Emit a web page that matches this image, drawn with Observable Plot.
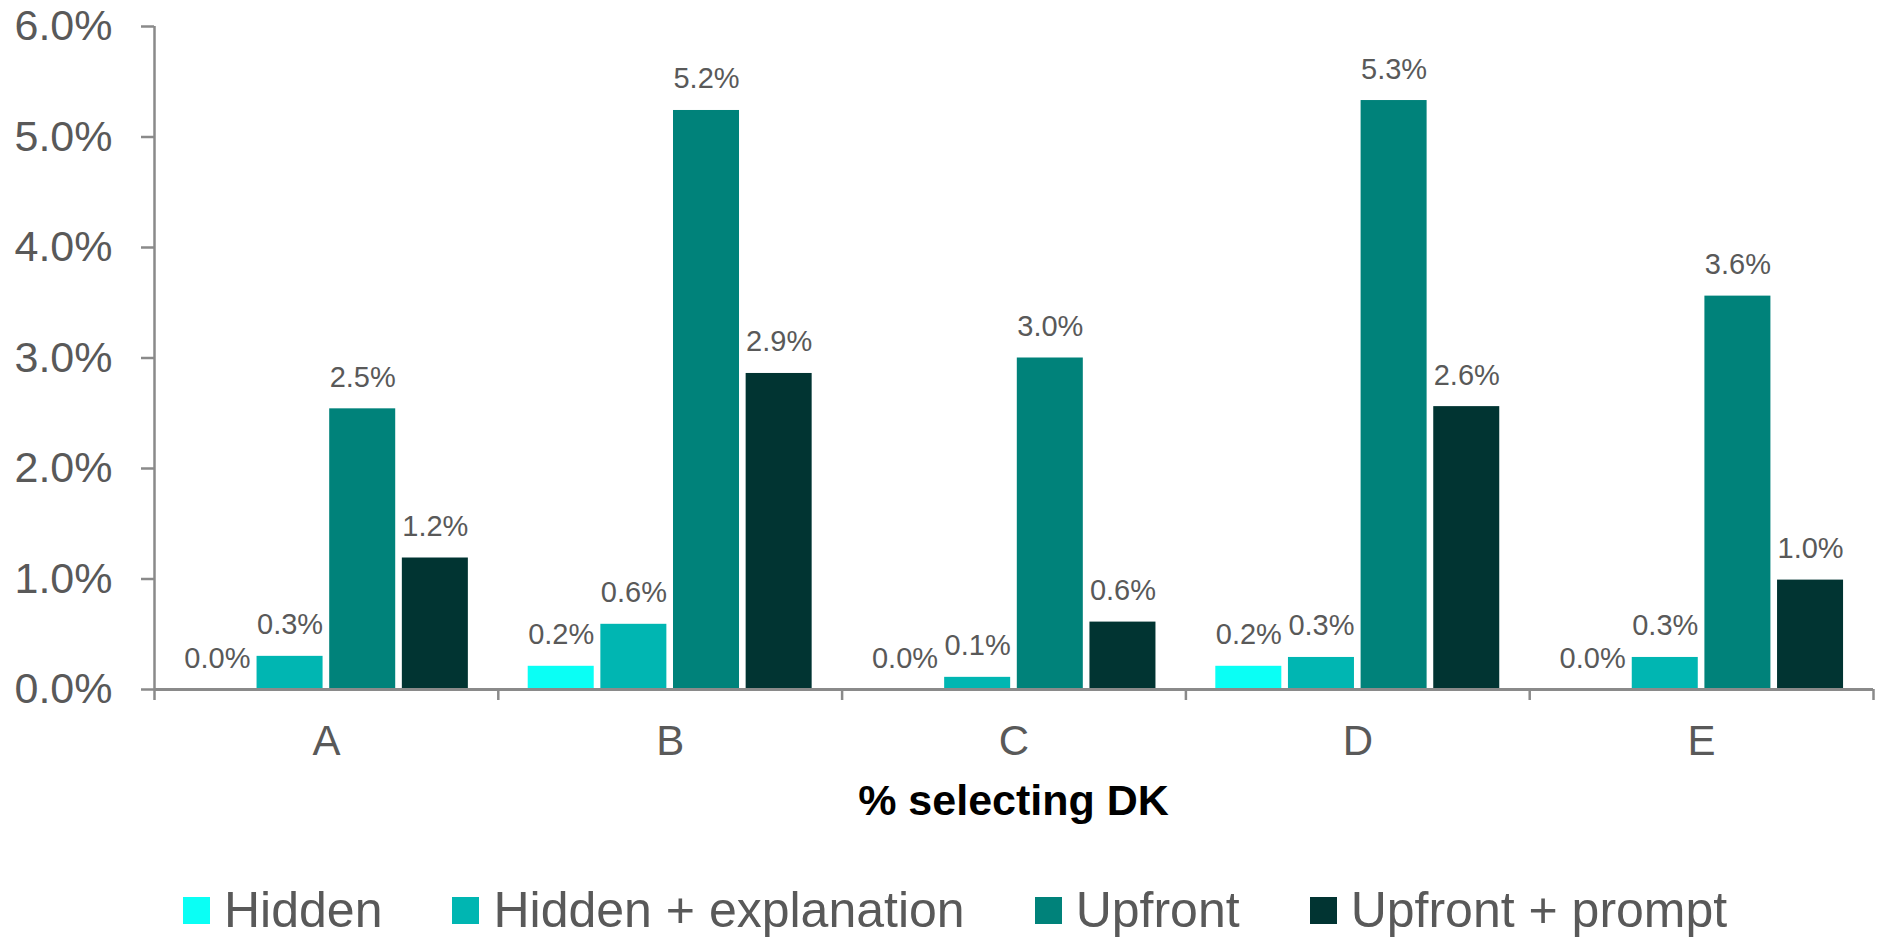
<!DOCTYPE html>
<html>
<head>
<meta charset="utf-8">
<script src="https://cdn.jsdelivr.net/npm/d3@7"></script>
<script src="https://cdn.jsdelivr.net/npm/@observablehq/plot@0.6"></script>
<style>
  html, body { margin: 0; padding: 0; background: #fff; }
  body { position: relative; width: 1879px; height: 937px; overflow: hidden;
         font-family: "Liberation Sans", Arial, Helvetica, sans-serif; }
  #title { position: absolute; top: 779px; left: 154px; width: 1719px; text-align: center;
           font-size: 43px; line-height: 43px; font-weight: bold; color: #000; }
  #legend { position: absolute; top: 885px; left: 183px; display: flex; align-items: center;
            font-size: 50px; line-height: 50px; color: #595959; white-space: nowrap; }
  .item { display: flex; align-items: center; margin-right: 70px; }
  .sw { width: 27px; height: 27px; margin-right: 14px; }
</style>
</head>
<body>
<div id="chart"></div>
<div id="title"></div>
<div id="legend"></div>
<script>
// ---- data ----
const categories = ["A", "B", "C", "D", "E"];
const series = ["Hidden", "Hidden + explanation", "Upfront", "Upfront + prompt"];
const hidden = [0.0, 0.21, 0.0, 0.21, 0.0];
const hiddenExplanation = [0.30, 0.59, 0.11, 0.29, 0.29];
const upfront = [2.54, 5.24, 3.00, 5.33, 3.56];
const upfrontPrompt = [1.19, 2.86, 0.61, 2.56, 0.99];
const yTicks = [0, 1, 2, 3, 4, 5, 6];
const colors = ["#0afff5", "#00b6b2", "#00827a", "#013432"];
const xTitle = "% selecting DK";

// ---- table ----
const seriesValues = [hidden, hiddenExplanation, upfront, upfrontPrompt];
const outer = 0.087, step = 0.2113, barW = 0.192;
const rows = [];
categories.forEach((c, i) => {
  series.forEach((s, j) => {
    const x1 = i - 0.5 + outer + j * step;
    rows.push({category: c, series: s, value: seriesValues[j][i], x1, x2: x1 + barW, xc: x1 + barW / 2});
  });
});
const boundaries = categories.map((_, i) => i - 0.5).concat([categories.length - 0.5]);
const axisGray = "#8a8a8a";
const textGray = "#595959";

const chart = Plot.plot({
  width: 1879,
  height: 780,
  marginLeft: 154,
  marginRight: 6,
  marginTop: 26,
  marginBottom: 91,
  style: {fontFamily: '"Liberation Sans", Arial, Helvetica, sans-serif', background: "#fff"},
  x: {type: "linear", domain: [-0.5, categories.length - 0.5], axis: null},
  y: {domain: [0, 6], axis: null},
  color: {domain: series, range: colors},
  marks: [
    Plot.rect(rows, {x1: "x1", x2: "x2", y1: 0, y2: "value", fill: "series"}),
    Plot.text(rows, {x: "xc", y: "value", text: d => d.value.toFixed(1) + "%", lineAnchor: "bottom",
                     dy: -22, fontSize: 29, fill: textGray}),
    Plot.axisY({ticks: yTicks, tickFormat: d => d.toFixed(1) + "%", tickSize: 13, tickPadding: 29,
                fontSize: 43, fill: textGray, stroke: axisGray, strokeWidth: 2.5, label: null}),
    Plot.ruleX([-0.5], {y1: 0, y2: 6, stroke: axisGray, strokeWidth: 2.5}),
    Plot.ruleY([0], {x1: -0.5, x2: categories.length - 0.5, stroke: axisGray, strokeWidth: 3}),
    Plot.axisX({ticks: boundaries, tickSize: 11, tickFormat: () => "", stroke: axisGray, strokeWidth: 2.5, label: null}),
    Plot.axisX({ticks: categories.map((_, i) => i), tickFormat: i => categories[i], tickSize: 0,
                tickPadding: 36, fontSize: 42, fill: textGray, label: null})
  ]
});
document.getElementById("chart").appendChild(chart);
document.getElementById("title").textContent = xTitle;

const legend = document.getElementById("legend");
series.forEach((s, j) => {
  const item = document.createElement("div");
  item.className = "item";
  const sw = document.createElement("div");
  sw.className = "sw";
  sw.style.background = colors[j];
  const label = document.createElement("span");
  label.textContent = s;
  item.appendChild(sw);
  item.appendChild(label);
  legend.appendChild(item);
});
</script>
</body>
</html>
